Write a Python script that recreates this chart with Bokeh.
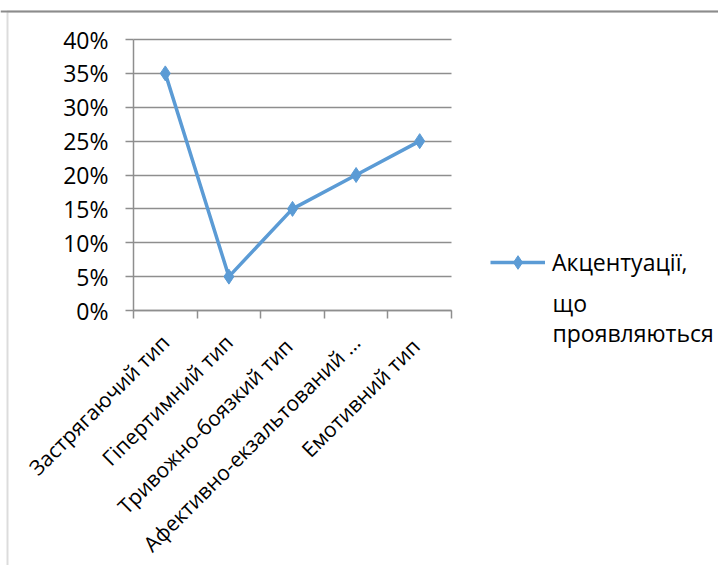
import math
from bokeh.plotting import figure
from bokeh.models import (FixedTicker, NumeralTickFormatter, Range1d, Legend, LegendItem,
                          Label, BoxAnnotation, Span)
from bokeh.core.properties import value
from bokeh.embed import file_html
from bokeh.resources import INLINE

categories = ["Застрягаючий тип", "Гіпертимний тип", "Тривожно-боязкий  тип",
              "Афективно-екзальтований …", "Емотивний  тип"]
values = [0.35, 0.05, 0.15, 0.20, 0.25]
y_ticks = [0.0, 0.05, 0.10, 0.15, 0.20, 0.25, 0.30, 0.35, 0.40]
legend_lines = ["Акцентуації,", "що", "проявляються"]

FONT = "Open Sans"
FS = "23px"
FS_X = "21px"
GRAY = "#8e8e8e"
BORDER = "#8c8c8c"
BLUE = "#5B9BD5"

W, H = 718, 565
# pixel layout of the plotting area (the frame spans the whole canvas; axes are fixed at 0)
PX_LEFT, PX_BOTTOM, PX_TOP = 133, 310, 39
CAT_PX = 63.6
n = len(categories)
y_max = y_ticks[-1]
y_px = (PX_BOTTOM - PX_TOP) / y_max

xs = [i + 0.5 for i in range(n)]

def px_x(px):
    return (px - PX_LEFT) / CAT_PX

def px_y(py):
    return (PX_BOTTOM - py) / y_px

p = figure(width=W, height=H, output_backend="svg", toolbar_location=None,
           x_range=Range1d(px_x(0), px_x(W)), y_range=Range1d(px_y(H), px_y(0)),
           min_border=0)
p.outline_line_color = None
p.background_fill_color = "white"
p.border_fill_color = "white"

# outer chart border (only its left and top edges fall inside the window)
p.add_layout(BoxAnnotation(left=px_x(7), right=px_x(W + 100), top=px_y(11), bottom=px_y(H + 100),
                           fill_color=None, line_color=BORDER, line_width=2,
                           level="underlay"))
p.add_layout(Span(location=px_y(11), dimension="width", line_color=BORDER, line_width=2,
                  level="underlay"))

# y axis
yax = p.yaxis[0]
yax.fixed_location = 0
yax.bounds = (0, y_max)
yax.ticker = FixedTicker(ticks=y_ticks)
yax.formatter = NumeralTickFormatter(format="0%")
yax.axis_line_color = GRAY
yax.axis_line_width = 1.5
yax.major_tick_line_color = GRAY
yax.major_tick_line_width = 1.5
yax.major_tick_in = 0
yax.major_tick_out = 8
yax.minor_tick_line_color = None
yax.major_label_standoff = 17
yax.major_label_text_font = FONT
yax.major_label_text_font_size = FS
yax.major_label_text_color = "black"

# x axis
xax = p.xaxis[0]
xax.fixed_location = 0
xax.bounds = (0, n)
xax.ticker = FixedTicker(ticks=xs, minor_ticks=list(range(n + 1)))
xax.major_label_overrides = {x: c for x, c in zip(xs, categories)}
xax.major_tick_line_color = None
xax.major_tick_in = 0
xax.major_tick_out = 0
xax.minor_tick_line_color = GRAY
xax.minor_tick_line_width = 1.5
xax.minor_tick_in = 0
xax.minor_tick_out = 8
xax.axis_line_color = GRAY
xax.axis_line_width = 1.5
xax.major_label_orientation = math.pi / 4
xax.major_label_standoff = 20
xax.major_label_text_font = FONT
xax.major_label_text_font_size = FS_X
xax.major_label_text_color = "black"

p.xgrid.grid_line_color = None
g = p.ygrid[0]
g.ticker = FixedTicker(ticks=y_ticks)
g.bounds = (0, y_max)
if "cross_bounds" in g.properties():
    g.cross_bounds = (0, n)
    g.grid_line_color = GRAY
    g.grid_line_width = 1.5
else:
    g.grid_line_color = None
    p.segment(x0=[0] * len(y_ticks), x1=[n] * len(y_ticks), y0=y_ticks, y1=y_ticks,
              line_color=GRAY, line_width=1.5, level="underlay")

r_line = p.line(xs, values, line_color=BLUE, line_width=3.5)
r_mark = p.scatter(xs, values, marker="diamond", size=15,
                   fill_color=BLUE, line_color=BLUE)

legend = Legend(items=[LegendItem(label=value(legend_lines[0]), renderers=[r_line, r_mark])],
                location=(490, H - 279), padding=0, margin=0, spacing=0,
                glyph_width=55, glyph_height=34, label_height=34, label_standoff=7,
                border_line_color=None, background_fill_alpha=0,
                label_text_font=FONT, label_text_font_size=FS, label_text_color="black")
p.add_layout(legend, "center")

for t, py in zip(legend_lines[1:], [302, 332]):
    p.add_layout(Label(x=px_x(552), y=px_y(py), text=t,
                       text_baseline="middle", text_font=FONT, text_font_size=FS,
                       text_color="black"))

open("out.html", "w").write(file_html(p, INLINE))
